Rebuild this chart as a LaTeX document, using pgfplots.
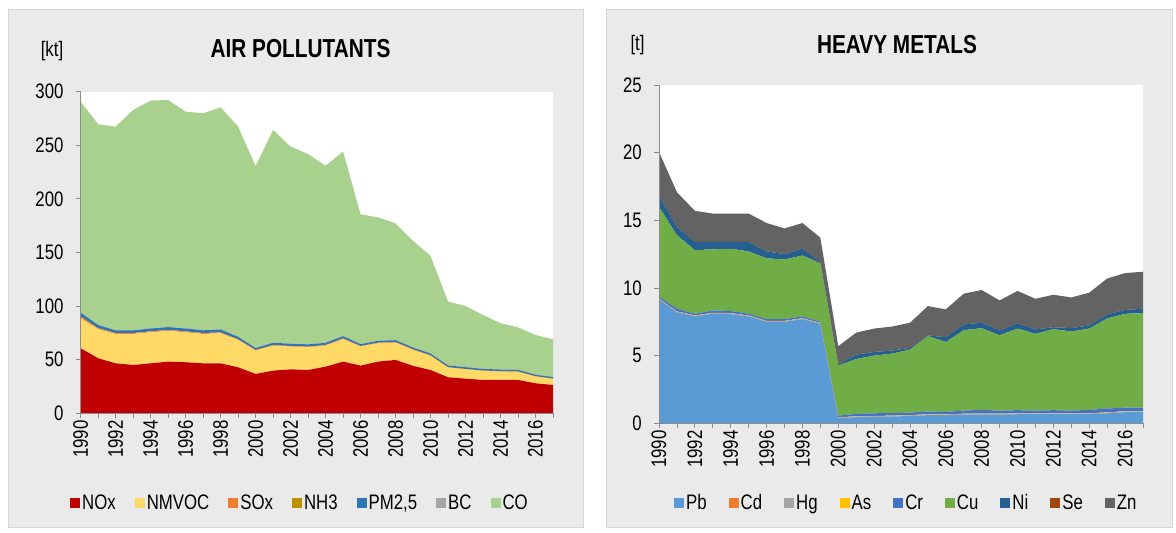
\documentclass[border=0pt]{standalone}
\usepackage{fontspec}
\setmainfont[FakeStretch=0.8]{Liberation Sans}
\usepackage{pgfplots}
\pgfplotsset{compat=1.18}
\usepackage{pgfplotstable}

\definecolor{panelgray}{HTML}{EAEAEA}
\definecolor{panelborder}{HTML}{D6D6D6}
\definecolor{axisgray}{HTML}{8C8C8C}
\definecolor{cNOx}{HTML}{C00000}
\definecolor{cNMVOC}{HTML}{FFD966}
\definecolor{cSOx}{HTML}{ED7D31}
\definecolor{cNH3}{HTML}{BF9000}
\definecolor{cPM}{HTML}{2E75B6}
\definecolor{cBC}{HTML}{A5A5A5}
\definecolor{cCO}{HTML}{A9D18E}
\definecolor{cPb}{HTML}{5B9BD5}
\definecolor{cCd}{HTML}{ED7D31}
\definecolor{cHg}{HTML}{A5A5A5}
\definecolor{cAs}{HTML}{FFC000}
\definecolor{cCr}{HTML}{4472C4}
\definecolor{cCu}{HTML}{70AD47}
\definecolor{cNi}{HTML}{255E91}
\definecolor{cSe}{HTML}{9E480E}
\definecolor{cZn}{HTML}{636363}

\pgfplotstableread{
year NOx NMVOC SOx NH3 PM BC CO
1990 60.6 28.0 1.5 0.2 3.5 0.3 196.6
1991 51.3 27.1 0.9 0.2 2.8 0.3 187.0
1992 46.6 27.4 0.7 0.2 2.4 0.3 189.8
1993 45.1 28.9 0.7 0.2 2.4 0.3 205.4
1994 46.6 29.0 0.7 0.2 2.6 0.3 212.3
1995 48.2 28.6 0.7 0.2 2.7 0.3 211.6
1996 47.6 28.0 0.7 0.2 2.6 0.3 202.0
1997 46.6 27.4 0.7 0.2 2.5 0.3 202.2
1998 46.6 28.0 0.7 0.2 2.6 0.3 207.0
1999 42.9 25.5 0.5 0.2 2.2 0.3 195.8
2000 36.7 21.8 0.4 0.2 1.7 0.3 169.6
2001 39.8 23.3 0.4 0.2 2.1 0.3 198.2
2002 41.0 21.2 0.4 0.2 2.1 0.3 183.6
2003 40.4 21.2 0.4 0.2 2.1 0.3 177.3
2004 43.5 19.6 0.4 0.2 2.0 0.3 165.0
2005 48.2 21.1 0.4 0.2 2.0 0.3 171.9
2006 44.5 17.7 0.4 0.2 1.7 0.3 120.8
2007 48.2 17.1 0.4 0.2 1.7 0.3 114.9
2008 49.8 16.1 0.4 0.2 1.7 0.3 108.7
2009 44.2 14.9 0.4 0.2 1.6 0.3 99.2
2010 40.4 13.1 0.4 0.2 1.6 0.3 90.8
2011 33.6 9.0 0.2 0.2 1.6 0.3 59.3
2012 32.3 8.7 0.2 0.2 1.6 0.3 56.8
2013 31.1 8.4 0.2 0.2 1.5 0.3 50.0
2014 31.1 7.8 0.2 0.2 1.5 0.3 42.9
2015 31.1 7.5 0.2 0.2 1.5 0.3 39.4
2016 28.0 6.2 0.2 0.2 1.4 0.3 36.8
2017 26.4 5.6 0.2 0.2 1.4 0.3 34.9
}\airtable

\pgfplotstableread{
year Pb Cd Hg As Cr Cu Ni Se Zn
1990 9.16 0.01 0.04 0.02 0.13 6.64 0.80 0.01 3.24
1991 8.20 0.01 0.04 0.02 0.20 5.43 0.60 0.01 2.57
1992 7.90 0.01 0.04 0.02 0.12 4.71 0.60 0.01 2.29
1993 8.10 0.01 0.04 0.02 0.17 4.51 0.55 0.01 2.09
1994 8.07 0.01 0.04 0.02 0.16 4.60 0.50 0.01 2.09
1995 7.90 0.01 0.04 0.02 0.13 4.60 0.70 0.01 2.09
1996 7.50 0.01 0.04 0.02 0.13 4.50 0.50 0.01 2.09
1997 7.50 0.01 0.04 0.02 0.13 4.40 0.40 0.01 1.89
1998 7.70 0.01 0.04 0.02 0.13 4.50 0.50 0.01 1.89
1999 7.35 0.01 0.04 0.02 0.10 4.30 0.10 0.01 1.79
2000 0.37 0.01 0.04 0.02 0.13 3.69 0.07 0.01 1.36
2001 0.45 0.01 0.04 0.02 0.17 4.06 0.32 0.01 1.62
2002 0.47 0.01 0.04 0.02 0.20 4.26 0.27 0.01 1.72
2003 0.50 0.01 0.04 0.02 0.19 4.39 0.22 0.01 1.77
2004 0.54 0.01 0.04 0.02 0.18 4.66 0.12 0.01 1.85
2005 0.60 0.01 0.04 0.02 0.20 5.57 0.05 0.01 2.16
2006 0.60 0.01 0.04 0.02 0.17 5.17 0.35 0.01 2.05
2007 0.64 0.01 0.04 0.02 0.23 5.94 0.42 0.01 2.27
2008 0.64 0.01 0.04 0.02 0.28 6.04 0.40 0.01 2.41
2009 0.64 0.01 0.04 0.02 0.23 5.57 0.35 0.01 2.21
2010 0.67 0.01 0.04 0.02 0.23 6.03 0.38 0.01 2.39
2011 0.67 0.01 0.04 0.02 0.20 5.67 0.32 0.01 2.26
2012 0.67 0.01 0.04 0.02 0.23 5.99 0.14 0.01 2.39
2013 0.67 0.01 0.04 0.02 0.20 5.84 0.25 0.01 2.26
2014 0.67 0.01 0.04 0.02 0.25 6.01 0.23 0.01 2.41
2015 0.74 0.01 0.04 0.02 0.28 6.66 0.29 0.01 2.65
2016 0.82 0.01 0.04 0.02 0.27 6.93 0.28 0.01 2.72
2017 0.82 0.01 0.04 0.02 0.27 6.98 0.33 0.01 2.72
}\hmtable

\pgfplotsset{
  myaxis/.style={
    scale only axis,
    axis lines*=left,
    axis on top,
    axis background/.style={fill=white},
    axis line style={draw=axisgray, line width=0.9pt},
    every tick/.style={draw=axisgray, line width=0.8pt},
    tick align=outside,
    major tick length=5pt,
    minor tick length=5pt,
    xmin=1990, xmax=2017, ymin=0,
    xtick={1990,1992,...,2016},
    minor xtick={1991,1993,...,2017},
    ticklabel style={font=\fontsize{21}{21}\selectfont, inner sep=2pt},
    xticklabel style={rotate=90, anchor=east, yshift=0pt},
    yticklabel style={anchor=east, xshift=-10pt},
    /pgf/number format/assume math mode=true,
    /pgf/number format/1000 sep={},
    stack plots=y,
    area legend,
    legend image code/.code={\fill[##1] (0pt,-5pt) rectangle (10pt,5pt);},
    legend style={draw=none, fill=none, font=\fontsize{21}{21}\selectfont,
      nodes={inner xsep=2pt, inner ysep=1pt}},
  }
}

\begin{document}
\begin{tikzpicture}[x=1pt,y=1pt]
\useasboundingbox (0pt,0pt) rectangle (1176pt,533pt);
\fill[white] (0pt,0pt) rectangle (1176pt,533pt);
\filldraw[fill=panelgray, draw=panelborder, line width=1pt] (8pt,5pt) rectangle (583pt,523pt);
\filldraw[fill=panelgray, draw=panelborder, line width=1pt] (606pt,5pt) rectangle (1172pt,523pt);
\node[font=\bfseries\fontsize{26}{26}\selectfont, inner sep=0pt] at (300.5pt,484.5pt) {AIR POLLUTANTS};
\node[font=\fontsize{21}{21}\selectfont, inner sep=0pt] at (52pt,482pt) {[kt]};
\node[font=\bfseries\fontsize{26}{26}\selectfont, inner sep=0pt] at (897pt,488.3pt) {HEAVY METALS};
\node[font=\fontsize{21}{21}\selectfont, inner sep=0pt] at (637.5pt,488pt) {[t]};

\begin{axis}[myaxis, at={(80.7pt,119.7pt)}, anchor=south west,
  width=472.3pt, height=321.6pt, ymax=300, ytick={0,50,...,300},
  legend columns=7,
  legend style={at={(0.4643,-0.279)}, anchor=center,
    /tikz/every even column/.append style={column sep=17pt}}]
\addplot[fill=cNOx, draw=none] table[x=year, y=NOx]{\airtable} \closedcycle;
\addplot[fill=cNMVOC, draw=none] table[x=year, y=NMVOC]{\airtable} \closedcycle;
\addplot[fill=cSOx, draw=none] table[x=year, y=SOx]{\airtable} \closedcycle;
\addplot[fill=cNH3, draw=none] table[x=year, y=NH3]{\airtable} \closedcycle;
\addplot[fill=cPM, draw=none] table[x=year, y=PM]{\airtable} \closedcycle;
\addplot[fill=cBC, draw=none] table[x=year, y=BC]{\airtable} \closedcycle;
\addplot[fill=cCO, draw=none] table[x=year, y=CO]{\airtable} \closedcycle;
\legend{NOx,NMVOC,SOx,NH3,{PM2,5},BC,CO}
\end{axis}

\begin{axis}[myaxis, at={(659pt,109.7pt)}, anchor=south west,
  width=484pt, height=338.3pt, ymax=25, ytick={0,5,...,25},
  legend columns=9,
  legend style={at={(0.511,-0.2356)}, anchor=center,
    /tikz/every even column/.append style={column sep=20pt}}]
\addplot[fill=cPb, draw=none] table[x=year, y=Pb]{\hmtable} \closedcycle;
\addplot[fill=cCd, draw=none] table[x=year, y=Cd]{\hmtable} \closedcycle;
\addplot[fill=cHg, draw=none] table[x=year, y=Hg]{\hmtable} \closedcycle;
\addplot[fill=cAs, draw=none] table[x=year, y=As]{\hmtable} \closedcycle;
\addplot[fill=cCr, draw=none] table[x=year, y=Cr]{\hmtable} \closedcycle;
\addplot[fill=cCu, draw=none] table[x=year, y=Cu]{\hmtable} \closedcycle;
\addplot[fill=cNi, draw=none] table[x=year, y=Ni]{\hmtable} \closedcycle;
\addplot[fill=cSe, draw=none] table[x=year, y=Se]{\hmtable} \closedcycle;
\addplot[fill=cZn, draw=none] table[x=year, y=Zn]{\hmtable} \closedcycle;
\legend{Pb,Cd,Hg,As,Cr,Cu,Ni,Se,Zn}
\end{axis}
\end{tikzpicture}
\end{document}
